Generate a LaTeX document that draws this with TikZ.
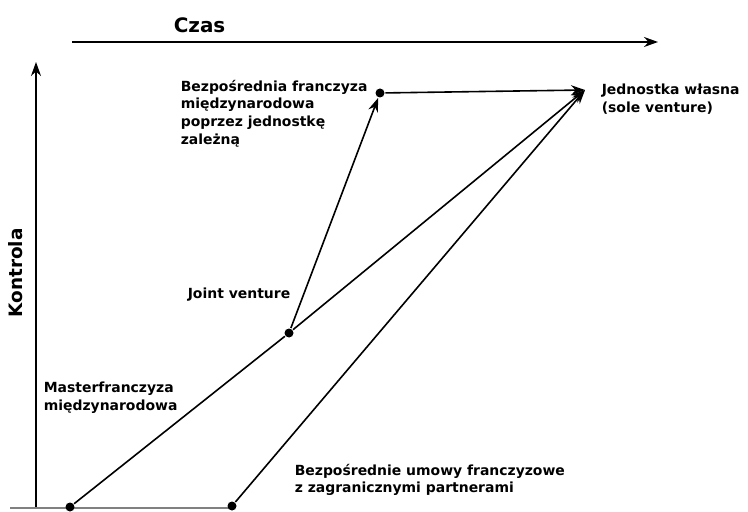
\documentclass[tikz,border=0pt]{standalone}
\usepackage{fontspec}
\setmainfont{DejaVu Sans}
\usetikzlibrary{arrows.meta, positioning}

\begin{document}
\begin{tikzpicture}[x=1bp, y=-1bp, line width=1.6bp,
    lbl/.style={font=\bfseries\fontsize{14}{18}\selectfont, align=left,
                inner sep=0pt, anchor=north west},
    ax/.style={font=\bfseries\fontsize{18.5}{18.5}\selectfont, inner sep=0pt},
    pt/.style={circle, fill=black, inner sep=0pt, minimum size=9bp},
    arr/.style={-{Stealth[length=14bp, width=10bp]}}]
  \useasboundingbox (0,0) rectangle (748,512);

  % axes
  \coordinate (t0) at (72,42);
  \coordinate (t1) at (658,42);
  \coordinate (k0) at (36,508);
  \coordinate (k1) at (36,62);
  \coordinate (g0) at (10,508);
  \coordinate (g1) at (235,508);
  \draw[arr] (t0) -- (t1);
  \draw[arr] (k0) -- (k1);
  \draw[gray] (g0) -- (g1);
  \node[ax, anchor=north west, font=\bfseries\fontsize{20}{20}\selectfont] (czas) at (173,17) {Czas};
  \node[ax, rotate=90] (kontrola) at (16,273) {Kontrola};

  % stages
  \node[pt] (M) at (70,507) {};
  \node[pt] (U) at (232,506) {};
  \node[pt] (JV) at (289,333) {};
  \node[pt] (B) at (380,93) {};
  \coordinate (S) at (585,90);

  \draw (M) -- (JV);
  \draw[arr] (JV) -- (S);
  \draw[arr] (JV) -- (B);
  \draw[arr] (B) -- (S);
  \draw[arr] (U) -- (S);

  % labels
  \node[lbl] (lB) at (180,79) {Bezpośrednia franczyza\\międzynarodowa\\poprzez jednostkę\\zależną};
  \node[lbl] (lS) at (601,83) {Jednostka własna\\(sole venture)};
  \node[lbl] (lJV) at (187,287) {Joint venture};
  \node[lbl] (lM) at (43,381) {Masterfranczyza\\międzynarodowa};
  \node[lbl] (lU) at (294,463) {Bezpośrednie umowy franczyzowe\\z zagranicznymi partnerami};
\end{tikzpicture}
\end{document}
